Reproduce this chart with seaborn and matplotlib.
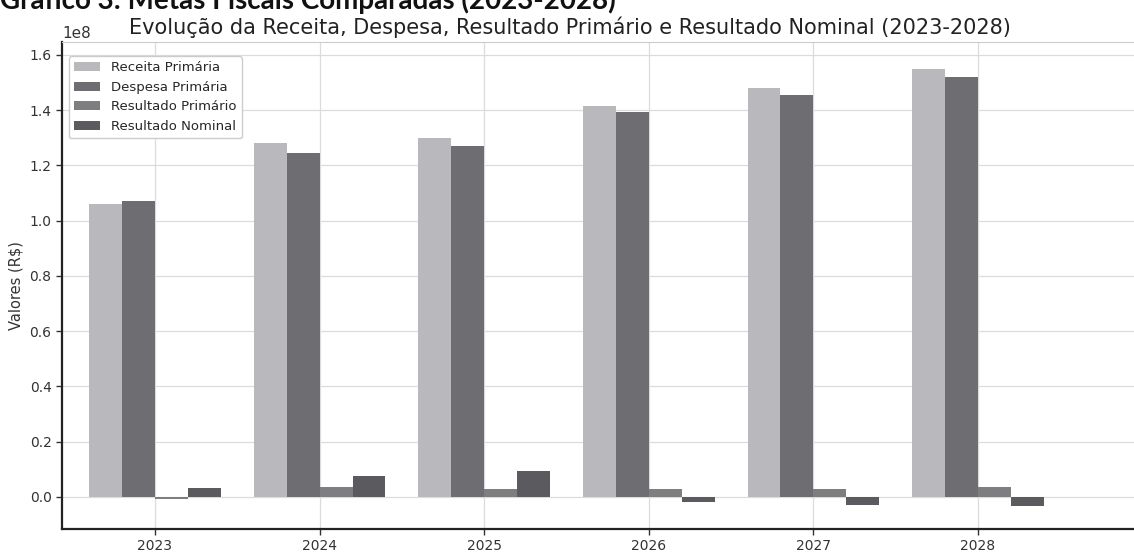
# ===================== Gráfico 3: Metas Fiscais Comparadas (2023-2028) =====================
import pandas as pd
import seaborn as sns
import matplotlib.pyplot as plt

# ===================== Dados (valores em R$) =====================
anos = ["2023", "2024", "2025", "2026", "2027", "2028"]
series = ["Receita Primária", "Despesa Primária", "Resultado Primário", "Resultado Nominal"]
receita_primaria = [1.060e8, 1.280e8, 1.300e8, 1.415e8, 1.480e8, 1.550e8]
despesa_primaria = [1.070e8, 1.245e8, 1.270e8, 1.395e8, 1.455e8, 1.520e8]
resultado_primario = [-0.006e8, 0.036e8, 0.030e8, 0.028e8, 0.030e8, 0.035e8]
resultado_nominal = [0.032e8, 0.076e8, 0.093e8, -0.017e8, -0.030e8, -0.033e8]

# tons de cinza (documento digitalizado)
cores = ["#b9b9bd", "#6e6e72", "#7e7e80", "#5b5b5f"]

# tabela longa para o seaborn
df = pd.DataFrame({
    "Ano": anos * 4,
    "Série": [s for s in series for _ in anos],
    "Valor": receita_primaria + despesa_primaria + resultado_primario + resultado_nominal,
})

# ===================== Estilo =====================
sns.set_theme(style="whitegrid")
plt.rcParams["font.family"] = ["DejaVu Sans"]

W, H = 1134, 554
fig = plt.figure(figsize=(W / 100, H / 100), dpi=100)
ax = fig.add_axes([62 / W, 1 - 529 / H, 1 - 62 / W, (529 - 42) / H])

sns.barplot(data=df, x="Ano", y="Valor", hue="Série", palette=cores,
            saturation=1, width=0.8, linewidth=0, ax=ax)

ax.set_xlim(-0.565, 5.948)
ax.set_ylim(-0.116e8, 1.647e8)
ax.set_xlabel("")
ax.set_ylabel(r"Valores (R\$)", fontsize=10.5, color="#333333")
ax.set_title("Evolução da Receita, Despesa, Resultado Primário e Resultado Nominal (2023-2028)",
             fontsize=15, x=0.474, pad=6, color="#222222")

# grade nos dois eixos
ax.xaxis.grid(True, color="#dcdcdc", linewidth=0.9)
ax.yaxis.grid(True, color="#dcdcdc", linewidth=0.9)
ax.set_axisbelow(True)

for lado in ["left", "bottom"]:
    ax.spines[lado].set_color("#222222")
    ax.spines[lado].set_linewidth(1.6)
ax.spines["top"].set_color("#cccccc")
ax.spines["top"].set_linewidth(0.8)
ax.spines["right"].set_visible(False)

ax.tick_params(axis="both", direction="out", length=4, width=1, color="#333333",
               labelsize=10, labelcolor="#333333", left=True, bottom=True)

ax.legend(loc="upper left", bbox_to_anchor=(0.0, 0.985), fontsize=9.5, title=None,
          framealpha=1, edgecolor="#cccccc")

# cabeçalho do documento (cortado no topo da digitalização, como no original)
fig.text(0.0, 1 - 9 / H, "Gráfico 3: Metas Fiscais Comparadas (2023-2028)",
         fontsize=20, fontweight="bold", family=["Lato", "DejaVu Sans"],
         ha="left", va="baseline", color="#111111")

fig.savefig("out.png", dpi=100)
plt.close(fig)
